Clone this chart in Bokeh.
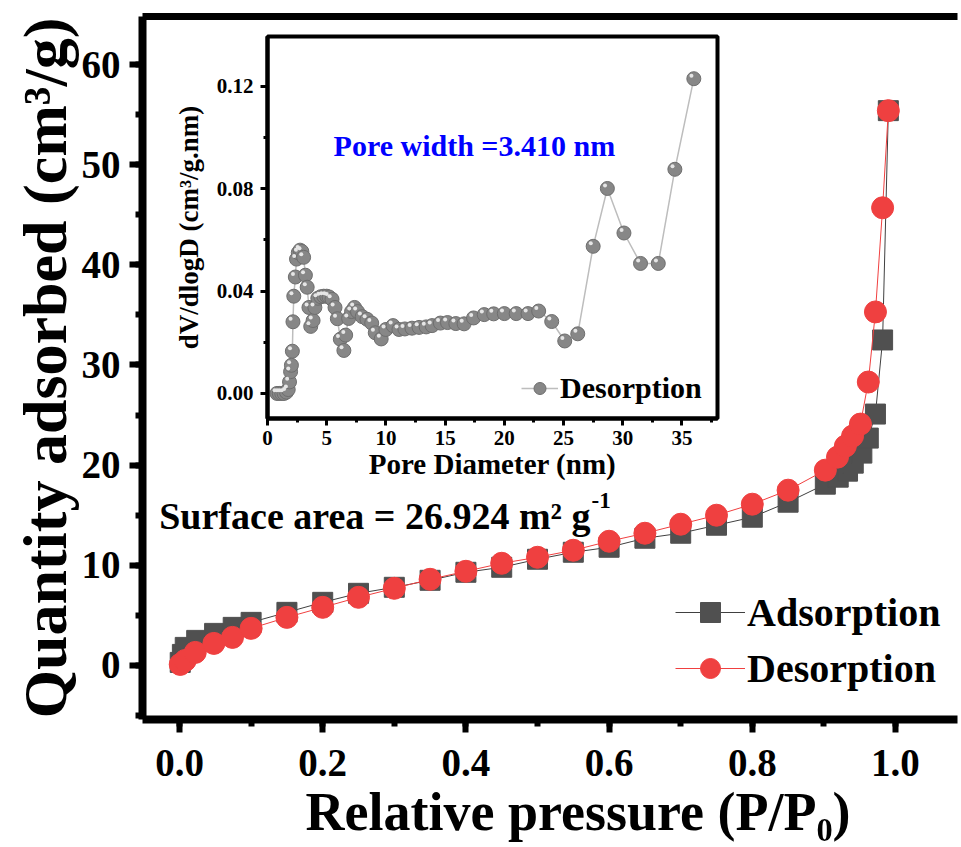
from bokeh.plotting import figure
from bokeh.models import (LinearAxis, SingleIntervalTicker, FixedTicker, NumeralTickFormatter,
                          Legend, LegendItem, Label, Range1d, ColumnDataSource, Title)
from bokeh.layouts import column
from bokeh.transform import dodge
from bokeh.embed import file_html
from bokeh.resources import INLINE

# ---------------- data ----------------
ads_p = [0.001, 0.004, 0.008, 0.024, 0.049, 0.075, 0.1, 0.15, 0.2, 0.25, 0.3, 0.35, 0.4,
         0.45, 0.5, 0.55, 0.6, 0.65, 0.7, 0.75, 0.8, 0.85, 0.902, 0.92, 0.933, 0.941,
         0.953, 0.962, 0.972, 0.982, 0.99]
ads_v = [0.3, 1.1, 1.8, 2.5, 3.2, 3.8, 4.3, 5.3, 6.3, 7.2, 7.8, 8.5, 9.3,
         9.8, 10.6, 11.3, 11.8, 12.7, 13.2, 14.0, 14.8, 16.3, 18.1, 18.8, 19.4, 20.2,
         21.2, 22.7, 25.1, 32.5, 55.4]

des_p = [0.001, 0.008, 0.022, 0.048, 0.074, 0.1, 0.15, 0.2, 0.25, 0.3, 0.35, 0.4, 0.45,
         0.5, 0.55, 0.6, 0.65, 0.7, 0.75, 0.8, 0.85, 0.902, 0.919, 0.93, 0.94, 0.951,
         0.962, 0.972, 0.982, 0.99]
des_v = [0.1, 0.5, 1.3, 2.2, 2.8, 3.7, 4.8, 5.8, 6.8, 7.7, 8.6, 9.4, 10.2,
         10.8, 11.5, 12.4, 13.2, 14.1, 15.0, 16.1, 17.5, 19.5, 20.8, 21.9, 22.9, 24.1,
         28.3, 35.3, 45.7, 55.4]

psd_d = [0.8, 1.0, 1.2, 1.4, 1.6, 1.75, 1.86, 1.95, 2.02, 2.1, 2.15, 2.22, 2.35, 2.45, 2.6,
         2.75, 2.9, 3.05, 3.2, 3.35, 3.5, 3.65, 3.85, 4.0, 4.25, 4.5, 4.75, 5.0, 5.2, 5.45,
         5.7, 5.9, 6.15, 6.45, 6.6, 6.85, 7.1, 7.35, 7.6, 8.0, 8.4, 8.8, 9.1, 9.6, 10.0,
         10.6, 11.1, 11.6, 12.2, 12.8, 13.4, 13.9, 14.6, 15.2, 15.9, 16.6, 17.4, 18.3, 19.1,
         20.0, 21.0, 22.0, 22.9, 24.0, 25.1, 26.2, 27.5, 28.7, 30.1, 31.5, 33.0, 34.4, 36.0]
psd_v = [0.0, 0.0, 0.0, 0.0, 0.0005, 0.0015, 0.0045, 0.0085, 0.011, 0.0165, 0.028, 0.038,
         0.0455, 0.0525, 0.055, 0.056, 0.0555, 0.0532, 0.0462, 0.0415, 0.0336, 0.0262,
         0.0285, 0.0336, 0.0372, 0.0378, 0.038, 0.038, 0.0377, 0.0368, 0.0336, 0.0292,
         0.0212, 0.0168, 0.0228, 0.0293, 0.032, 0.0336, 0.032, 0.030, 0.029, 0.0275,
         0.0237, 0.0213, 0.025, 0.0265, 0.025, 0.0252, 0.0255, 0.0258, 0.026, 0.0265,
         0.0275, 0.0277, 0.0273, 0.0272, 0.0295, 0.0308, 0.0311, 0.0312, 0.0312, 0.0312,
         0.0322, 0.0281, 0.0205, 0.0233, 0.0575, 0.0801, 0.0627, 0.0508, 0.0508, 0.0876,
         0.123]

FONT = "Liberation Serif"


def style_axis(ax, lw, tick_out, minor_out, tick_w, label_size, standoff):
    ax.axis_line_width = lw
    ax.axis_line_color = "black"
    ax.major_tick_in = 0
    ax.major_tick_out = tick_out
    ax.minor_tick_in = 0
    ax.minor_tick_out = minor_out
    ax.major_tick_line_width = tick_w
    ax.minor_tick_line_width = tick_w
    ax.major_tick_line_color = "black"
    ax.minor_tick_line_color = "black"
    ax.major_label_text_font = FONT
    ax.major_label_text_font_style = "bold"
    ax.major_label_text_font_size = label_size
    ax.major_label_text_color = "black"
    ax.major_label_standoff = standoff
    ax.axis_label_text_font = FONT
    ax.axis_label_text_font_style = "bold"
    ax.axis_label_text_color = "black"


# ---------------- main plot ----------------
p = figure(width=961, height=847, output_backend="svg", toolbar_location=None,
           x_range=Range1d(-0.0517, 1.0866), y_range=Range1d(-5.4, 64.8),
           min_border_left=142, min_border_right=4, min_border_top=16, min_border_bottom=128)
p.outline_line_color = None
p.xgrid.visible = False
p.ygrid.visible = False
p.background_fill_color = "white"
p.border_fill_color = "white"

p.xaxis[0].ticker = SingleIntervalTicker(interval=0.2, num_minor_ticks=2)
p.xaxis[0].formatter = NumeralTickFormatter(format="0.0")
p.yaxis[0].ticker = SingleIntervalTicker(interval=10, num_minor_ticks=2)
style_axis(p.xaxis[0], 8, 13, 7, 6, "39px", 17)
style_axis(p.yaxis[0], 8, 13, 7, 6, "39px", 9)
p.yaxis[0].axis_label = "Quantity adsorbed (cm³/g)"
p.yaxis[0].axis_label_text_font_size = "62px"
p.yaxis[0].axis_label_standoff = 0

top = LinearAxis(ticker=FixedTicker(ticks=[]), major_label_text_font_size="0px",
                 axis_line_width=7, major_tick_out=0, minor_tick_out=0)
p.add_layout(top, "above")

p.add_layout(Title(text="Relative pressure (P/P₀)", align="left", offset=163, standoff=2,
                   text_font=FONT, text_font_style="bold", text_font_size="54px",
                   text_color="black"), "below")

la = p.line(ads_p, ads_v, line_color="#404040", line_width=1)
sa = p.scatter(ads_p, ads_v, marker="square", size=20, fill_color="#505050", line_color="#505050")
ld = p.line(des_p, des_v, line_color="#F04040", line_width=1)
sd = p.scatter(des_p, des_v, marker="circle", size=22, fill_color="#EF4040", line_color="#EF4040")

legend = Legend(items=[LegendItem(label="Adsorption", renderers=[la, sa]),
                       LegendItem(label="Desorption", renderers=[ld, sd])],
                location=(533, 26), orientation="vertical", glyph_width=70, glyph_height=50,
                label_height=50, label_standoff=2, spacing=6, padding=0, margin=0,
                border_line_color=None, background_fill_alpha=0, label_text_color="black",
                label_text_font=FONT, label_text_font_style="bold", label_text_font_size="40px")
p.add_layout(legend)

# surface area annotation
sa_x, sa_y = 0.574, 14.9
p.add_layout(Label(x=sa_x, y=sa_y, text="Surface area = 26.924 m² g", text_align="right",
                   text_baseline="alphabetic", text_font=FONT, text_font_style="bold",
                   text_font_size="38px", text_color="black"))
p.add_layout(Label(x=sa_x, y=sa_y, x_offset=1, y_offset=16, text="-1", text_align="left",
                   text_baseline="alphabetic", text_font=FONT, text_font_style="bold",
                   text_font_size="23px", text_color="black"))

# ---------------- inset ----------------
p2 = figure(width=596, height=466, output_backend="svg", toolbar_location=None,
            x_range=Range1d(0, 38), y_range=Range1d(-0.0098, 0.1395),
            min_border_left=142, min_border_right=4, min_border_top=4, min_border_bottom=80)
p2.outline_line_color = "black"
p2.outline_line_width = 4
p2.border_fill_alpha = 0
p2.background_fill_color = "white"
p2.xgrid.visible = False
p2.ygrid.visible = False
p2.xaxis[0].ticker = SingleIntervalTicker(interval=5, num_minor_ticks=2)
p2.yaxis[0].ticker = SingleIntervalTicker(interval=0.04, num_minor_ticks=2)
p2.yaxis[0].formatter = NumeralTickFormatter(format="0.00")
style_axis(p2.xaxis[0], 4, 7, 4, 3, "21px", 5)
style_axis(p2.yaxis[0], 4, 7, 4, 3, "21px", 7)
p2.xaxis[0].axis_label = "Pore Diameter (nm)"
p2.xaxis[0].axis_label_text_font_size = "29px"
p2.xaxis[0].axis_label_standoff = 0
p2.yaxis[0].axis_label = "dV/dlogD (cm³/g.nm)"
p2.yaxis[0].axis_label_text_font_size = "27px"
p2.yaxis[0].axis_label_standoff = 10

src = ColumnDataSource(dict(d=psd_d, v=psd_v))
l2 = p2.line("d", "v", source=src, line_color="#bdbdbd", line_width=1.5)
b2 = p2.scatter("d", "v", source=src, marker="circle", size=14, fill_color="#878787",
                line_color="#6e6e6e", line_width=1)
p2.scatter(x=dodge("d", -0.2, range=p2.x_range), y=dodge("v", 0.0012, range=p2.y_range),
           source=src, marker="circle", size=4, fill_color="#e6e6e6", line_color=None)

legend2 = Legend(items=[LegendItem(label="Desorption", renderers=[l2, b2])],
                 location=(254, 13), glyph_width=37, glyph_height=30, label_height=30,
                 label_standoff=2, padding=0, margin=0, border_line_color=None,
                 background_fill_alpha=0, label_text_font=FONT, label_text_font_style="bold",
                 label_text_font_size="30px", label_text_color="black")
p2.add_layout(legend2)

p2.add_layout(Label(x=5.58, y=0.097, text="Pore width =3.410 nm", text_color="#0000FF",
                    text_baseline="alphabetic", text_font=FONT, text_font_style="bold",
                    text_font_size="30px"))

p2.styles = {"position": "absolute", "left": "125px", "top": "32px", "z-index": "2"}

lay = column(p, p2)
lay.styles = {"position": "relative"}

open("out.html", "w").write(file_html(lay, INLINE))
